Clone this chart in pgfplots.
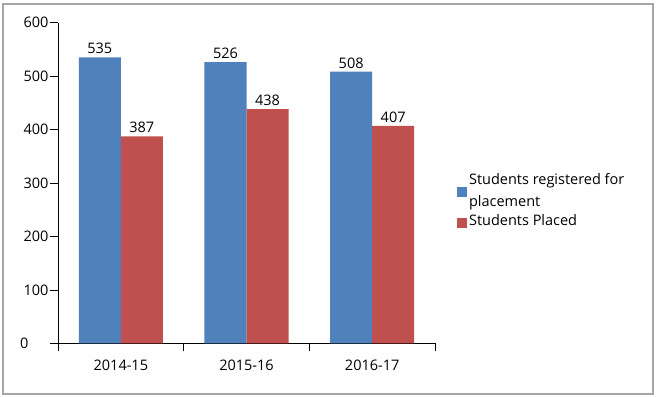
\documentclass[border=0pt]{standalone}
\usepackage{pgfplots}
\pgfplotsset{compat=1.18}
\usepackage{fontspec}
\setmainfont{Open Sans}
\definecolor{cblue}{HTML}{4F81BD}
\definecolor{cred}{HTML}{C0504D}
\begin{document}
\begin{tikzpicture}[x=1pt,y=1pt]
\fill[white] (-58,-54.5) rectangle ++(661,398);
\draw[gray!70, line width=1.2pt] (-55,-50.5) rectangle (595,339.5);
\begin{axis}[
  at={(0,0)}, anchor=south west,
  scale only axis, width=377pt, height=321pt,
  ymin=0, ymax=600, ytick={0,100,...,600},
  yticklabels={\makebox[0pt][r]{0\hspace{20pt}},100,200,300,400,500,600},
  xmin=0, xmax=3,
  xtick={0.5,1.5,2.5}, xticklabels={2014-15,2015-16,2016-17},
  minor xtick={0,1,2,3},
  axis lines*=left,
  axis line style={line width=0.8pt},
  tick style={black, line width=0.8pt},
  major tick length=8pt, minor tick length=8pt,
  tick align=outside,
  major x tick style={draw=none},
  ticklabel style={font=\fontsize{14.5}{17}\selectfont},
  yticklabel style={xshift=2pt},
  xticklabel style={yshift=-5pt},
  /pgf/number format/assume math mode=true,
  ybar=0pt, bar width=42pt,
  nodes near coords,
  every node near coord/.append style={font=\fontsize{14.5}{17}\selectfont, black},
  legend style={draw=none, at={(1.05,0.447)}, anchor=west,
    font=\fontsize{14.5}{22}\selectfont, legend cell align=left,
    nodes={align=left, anchor=west}, row sep=3pt},
  legend image code/.code={\fill[#1] (0pt,-7pt) rectangle (10pt,3pt);},
  clip=false,
]
\addplot[fill=cblue, draw=none] coordinates {(0.5,535) (1.5,526) (2.5,508)};
\addplot[fill=cred, draw=none] coordinates {(0.5,387) (1.5,438) (2.5,407)};
\legend{Students registered for\\placement, Students Placed}
\end{axis}
\draw[black, line width=0.8pt] (-8,0) -- (0,0);
\end{tikzpicture}
\end{document}
